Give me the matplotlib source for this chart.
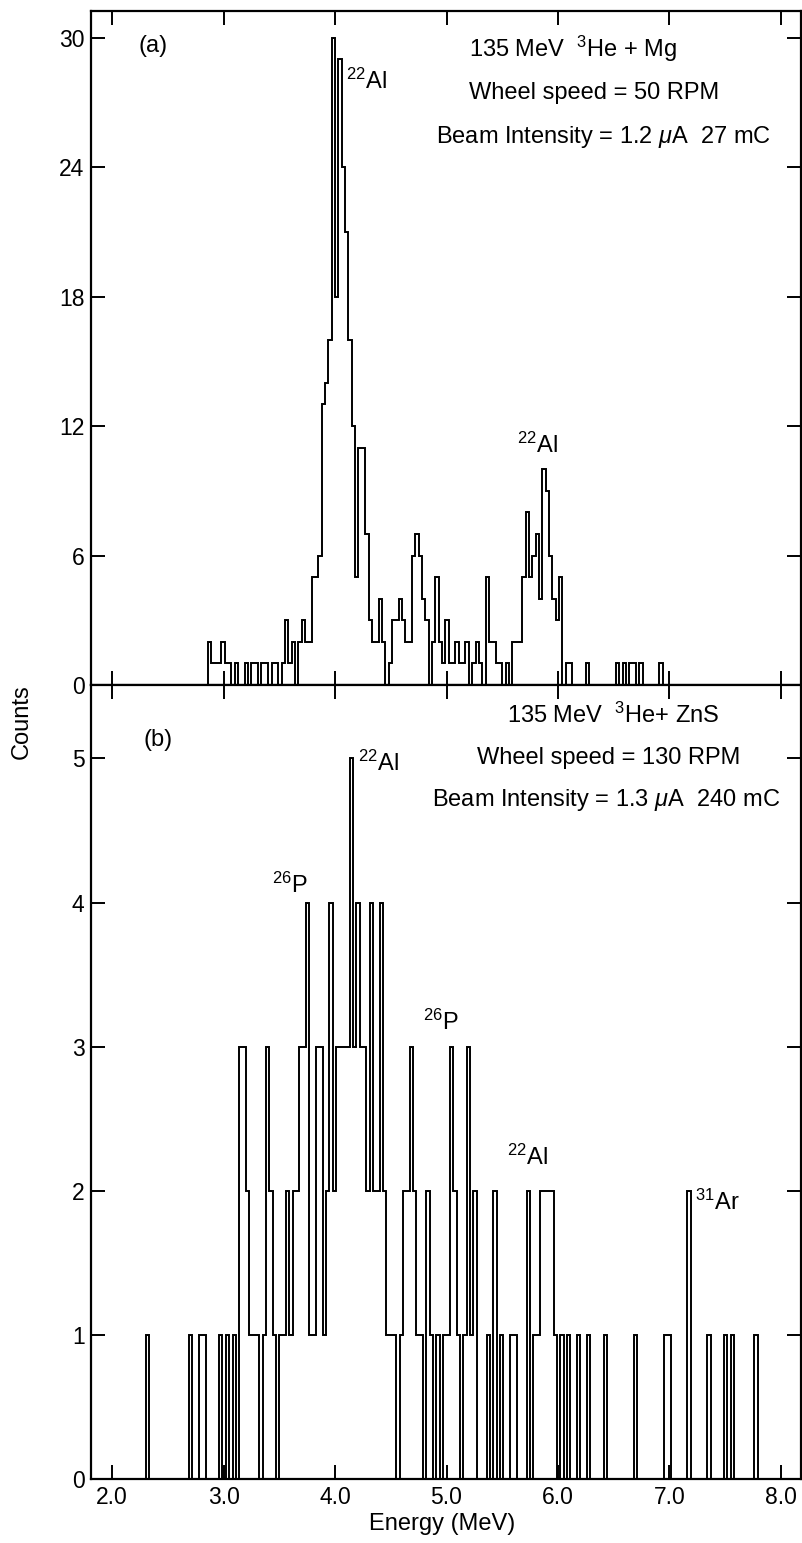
import numpy as np
import matplotlib
matplotlib.use("Agg")
import matplotlib.pyplot as plt

plt.rcParams['font.family'] = ['Liberation Sans', 'DejaVu Sans']
plt.rcParams['mathtext.fontset'] = 'custom'
plt.rcParams['mathtext.rm'] = 'Liberation Sans'
plt.rcParams['mathtext.it'] = 'Liberation Sans:italic'
plt.rcParams['mathtext.sf'] = 'Liberation Sans'

# ---------------- data ----------------
bin_width = 0.03  # MeV

# panel (a): 135 MeV 3He + Mg, counts per channel starting at top_start
top_start = 2.86
top_counts = [
    2, 1, 1, 1, 2, 1, 1, 0, 1, 0,
    0, 1, 0, 1, 1, 0, 1, 1, 0, 1,
    1, 0, 1, 3, 1, 2, 0, 2, 3, 2,
    2, 5, 5, 6, 13, 14, 16, 30, 18, 29,
    24, 21, 16, 12, 5, 11, 11, 7, 3, 2,
    2, 4, 2, 0, 1, 3, 3, 4, 3, 2,
    2, 6, 7, 6, 4, 3, 0, 2, 5, 2,
    1, 3, 1, 1, 2, 1, 1, 2, 0, 1,
    2, 1, 0, 5, 2, 2, 1, 1, 0, 1,
    0, 2, 2, 2, 5, 8, 5, 6, 7, 4,
    10, 9, 6, 4, 3, 5, 0, 1, 1, 0,
    0, 0, 0, 1, 0, 0, 0, 0, 0, 0,
    0, 0, 1, 0, 1, 0, 1, 1, 0, 1,
    0, 0, 0, 0, 0, 1, 0,
]

# panel (b): 135 MeV 3He + ZnS
bottom_start = 2.30
bottom_counts = [
    1, 0, 0, 0, 0, 0, 0, 0, 0, 0,
    0, 0, 0, 1, 0, 0, 1, 1, 0, 0,
    0, 0, 1, 0, 1, 0, 1, 0, 3, 3,
    2, 1, 1, 1, 0, 1, 3, 2, 1, 0,
    1, 1, 2, 1, 2, 2, 3, 3, 4, 1,
    1, 3, 3, 1, 2, 4, 2, 3, 3, 3,
    3, 5, 3, 4, 3, 3, 2, 4, 2, 2,
    4, 2, 1, 1, 1, 0, 1, 2, 2, 3,
    2, 1, 1, 0, 2, 1, 0, 1, 0, 1,
    1, 3, 2, 1, 0, 1, 3, 1, 2, 0,
    0, 0, 1, 0, 2, 0, 1, 0, 0, 1,
    1, 0, 0, 0, 2, 0, 1, 1, 2, 2,
    2, 2, 1, 0, 1, 0, 1, 0, 0, 1,
    0, 0, 1, 0, 0, 0, 0, 1, 0, 0,
    0, 0, 0, 0, 0, 0, 1, 0, 0, 0,
    0, 0, 0, 0, 0, 1, 1, 0, 0, 0,
    0, 0, 2, 0, 0, 0, 0, 0, 1, 0,
    0, 0, 0, 1, 0, 1, 0, 0, 0, 0,
    0, 0, 1,
]

x_ticks = [2.0, 3.0, 4.0, 5.0, 6.0, 7.0, 8.0]
x_ticklabels = ['2.0', '3.0', '4.0', '5.0', '6.0', '7.0', '8.0']
top_yticks = [0, 6, 12, 18, 24, 30]
bottom_yticks = [0, 1, 2, 3, 4, 5]

# ---------------- figure ----------------
W, H = 803, 1543
fig = plt.figure(figsize=(W / 100, H / 100), dpi=100)

left_px, right_px = 91.5, 801
ax1 = fig.add_axes([left_px / W, 1 - 685 / H, (right_px - left_px) / W, (685 - 10.7) / H])
ax2 = fig.add_axes([left_px / W, 1 - 1479 / H, (right_px - left_px) / W, (1479 - 685) / H])

for ax, start, counts in ((ax1, top_start, top_counts), (ax2, bottom_start, bottom_counts)):
    c = np.asarray(counts, dtype=float)
    edges = start + bin_width * np.arange(len(c) + 1)
    ax.stairs(c, edges, baseline=0, color='black', lw=1.4)
    ax.set_xlim(1.815, 8.18)
    ax.set_xticks(x_ticks)
    for s in ax.spines.values():
        s.set_linewidth(1.6)
    ax.tick_params(axis='both', which='both', direction='in', length=10, width=1.4,
                   top=True, right=True, labelsize=16.5, pad=5, colors='black')

ax1.set_ylim(0, 31.25)
ax1.set_yticks(top_yticks)
ax1.tick_params(labelbottom=False)
ax2.set_ylim(0, 5.51)
ax2.set_yticks(bottom_yticks)
ax2.set_xticklabels(x_ticklabels)

fs = 17
# panel (a) annotations
ax1.text(2.235, 29.6, '(a)', fontsize=fs, ha='left', va='center')
ax1.text(5.20, 29.5, r'135 MeV  $^{3}$He + Mg', fontsize=fs, ha='left', va='center')
ax1.text(5.20, 27.45, 'Wheel speed = 50 RPM', fontsize=fs, ha='left', va='center')
ax1.text(4.91, 25.4, r'Beam Intensity = 1.2 $\mu$A  27 mC', fontsize=fs, ha='left', va='center')
ax1.text(4.10, 28.0, r'$^{22}$Al', fontsize=fs, ha='left', va='center')
ax1.text(5.63, 11.1, r'$^{22}$Al', fontsize=fs, ha='left', va='center')

# panel (b) annotations
ax2.text(2.28, 5.13, '(b)', fontsize=fs, ha='left', va='center')
ax2.text(5.54, 5.30, r'135 MeV  $^{3}$He+ ZnS', fontsize=fs, ha='left', va='center')
ax2.text(5.27, 5.00, 'Wheel speed = 130 RPM', fontsize=fs, ha='left', va='center')
ax2.text(4.87, 4.71, r'Beam Intensity = 1.3 $\mu$A  240 mC', fontsize=fs, ha='left', va='center')
ax2.text(4.21, 4.97, r'$^{22}$Al', fontsize=fs, ha='left', va='center')
ax2.text(3.43, 4.12, r'$^{26}$P', fontsize=fs, ha='left', va='center')
ax2.text(4.79, 3.17, r'$^{26}$P', fontsize=fs, ha='left', va='center')
ax2.text(5.54, 2.23, r'$^{22}$Al', fontsize=fs, ha='left', va='center')
ax2.text(7.23, 1.92, r'$^{31}$Ar', fontsize=fs, ha='left', va='center')

fig.text(22 / W, 1 - 722 / H, 'Counts', rotation=90, fontsize=17, ha='center', va='center')
fig.text(442 / W, 1 - 1524 / H, 'Energy (MeV)', fontsize=17, ha='center', va='center')

fig.savefig('out.png', dpi=100)
